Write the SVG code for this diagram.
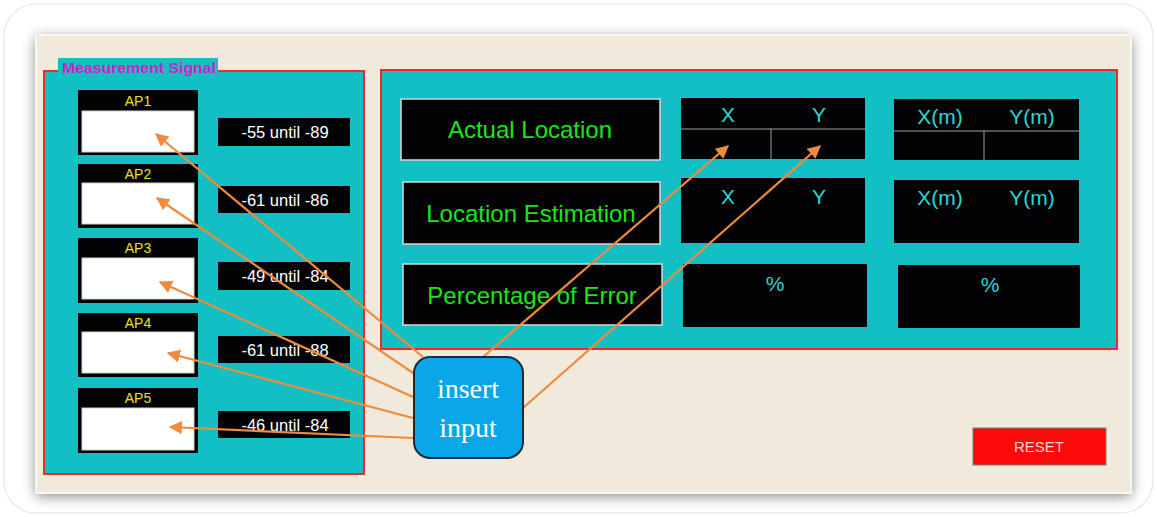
<svg xmlns="http://www.w3.org/2000/svg" width="1157" height="517" viewBox="0 0 1157 517">
<defs>
<filter id="sh" x="-10%" y="-10%" width="120%" height="130%">
<feGaussianBlur in="SourceAlpha" stdDeviation="7"/>
<feOffset dx="0" dy="3"/>
<feComponentTransfer><feFuncA type="linear" slope="0.5"/></feComponentTransfer>
<feMerge><feMergeNode/><feMergeNode in="SourceGraphic"/></feMerge>
</filter>
<marker id="ah" viewBox="0 0 10 10" refX="9" refY="5" markerWidth="6" markerHeight="6" orient="auto-start-reverse" markerUnits="strokeWidth">
<path d="M0,0 L10,5 L0,10 z" fill="#f08a3c"/>
</marker>
<style>
.panel{fill:#12bfc3;stroke:#ee2a2a;stroke-width:2}
.blk{fill:#030306}
.lbl{fill:#030306;stroke:#d8d8d8;stroke-width:1.5}
.wht{fill:#ffffff;stroke:#d0d0d0;stroke-width:1}
.ap{font-family:"Liberation Sans",Arial,sans-serif;font-size:14px;fill:#e8e020;text-anchor:middle}
.rng{font-family:"Liberation Sans",Arial,sans-serif;font-size:16.5px;fill:#ffffff;text-anchor:middle}
.grn{font-family:"Liberation Sans",Arial,sans-serif;font-size:24px;fill:#19e619;text-anchor:middle}
.cy{font-family:"Liberation Sans",Arial,sans-serif;font-size:21px;fill:#2ad8d0;text-anchor:middle}
.div{stroke:#a0a0a0;stroke-width:1}
.arr{stroke:#f08a3c;stroke-width:2.2;fill:none;marker-end:url(#ah)}
</style>
</defs>
<rect x="0" y="0" width="1157" height="517" fill="#ffffff"/>
<rect x="4" y="4" width="1149" height="509" rx="32" fill="#ffffff" stroke="#ececec" stroke-width="1.5"/>
<rect x="36" y="35" width="1095" height="458" fill="#efeadb" filter="url(#sh)"/>
<rect x="36" y="35" width="1095" height="458" fill="none" stroke="#f8f6ee" stroke-width="2"/>

<g id="measurement-panel">
<rect class="panel" x="44" y="71" width="320" height="403"/>
<rect x="58" y="58" width="160" height="18" fill="#12bfc3"/>
<text x="62" y="73" font-family="'Liberation Sans',Arial,sans-serif" font-size="15" font-weight="bold" fill="#d022c8" textLength="154" lengthAdjust="spacingAndGlyphs">Measurement Signal</text>
</g>

<g id="ap1">
<rect class="blk" x="78" y="90" width="120" height="65"/>
<text class="ap" x="138" y="106">AP1</text>
<rect class="wht" x="82" y="111" width="112" height="41"/>
</g>
<g id="ap2">
<rect class="blk" x="78" y="164" width="120" height="64"/>
<text class="ap" x="138" y="179">AP2</text>
<rect class="wht" x="82" y="183" width="112" height="41"/>
</g>
<g id="ap3">
<rect class="blk" x="78" y="238" width="120" height="65"/>
<text class="ap" x="138" y="253">AP3</text>
<rect class="wht" x="82" y="258" width="112" height="41"/>
</g>
<g id="ap4">
<rect class="blk" x="78" y="313" width="120" height="64"/>
<text class="ap" x="138" y="328">AP4</text>
<rect class="wht" x="82" y="332" width="112" height="41"/>
</g>
<g id="ap5">
<rect class="blk" x="78" y="388" width="120" height="65"/>
<text class="ap" x="138" y="403">AP5</text>
<rect class="wht" x="82" y="408" width="112" height="42"/>
</g>

<g id="range1"><rect class="blk" x="218" y="118" width="132" height="28"/><text class="rng" x="285" y="138">-55 until -89</text></g>
<g id="range2"><rect class="blk" x="218" y="186" width="132" height="27"/><text class="rng" x="285" y="206">-61 until -86</text></g>
<g id="range3"><rect class="blk" x="218" y="262" width="132" height="28"/><text class="rng" x="285" y="282">-49 until -84</text></g>
<g id="range4"><rect class="blk" x="218" y="336" width="132" height="27"/><text class="rng" x="285" y="356">-61 until -88</text></g>
<g id="range5"><rect class="blk" x="218" y="411" width="132" height="27"/><text class="rng" x="285" y="431">-46 until -84</text></g>

<g id="location-panel">
<rect class="panel" x="381" y="70" width="736" height="279"/>
</g>

<g id="actual-location"><rect class="lbl" x="401" y="99" width="259" height="61"/><text class="grn" x="530" y="138">Actual Location</text></g>
<g id="location-estimation"><rect class="lbl" x="403" y="182" width="257" height="62"/><text class="grn" x="531" y="222">Location Estimation</text></g>
<g id="percentage-error"><rect class="lbl" x="403" y="264" width="259" height="61"/><text class="grn" x="532" y="304">Percentage of Error</text></g>

<g id="xy-actual">
<rect class="blk" x="681" y="98" width="184" height="61"/>
<line class="div" x1="681" y1="129" x2="865" y2="129"/>
<line class="div" x1="771" y1="129" x2="771" y2="159"/>
<text class="cy" x="728" y="122">X</text><text class="cy" x="819" y="122">Y</text>
</g>
<g id="xy-estimation">
<rect class="blk" x="681" y="178" width="184" height="65"/>
<text class="cy" x="728" y="204">X</text><text class="cy" x="819" y="204">Y</text>
</g>
<g id="pct-1">
<rect class="blk" x="683" y="264" width="184" height="63"/>
<text class="cy" x="775" y="291">%</text>
</g>
<g id="xym-actual">
<rect class="blk" x="894" y="99" width="185" height="61"/>
<line class="div" x1="894" y1="131" x2="1079" y2="131"/>
<line class="div" x1="984" y1="131" x2="984" y2="160"/>
<text class="cy" x="940" y="124">X(m)</text><text class="cy" x="1032" y="124">Y(m)</text>
</g>
<g id="xym-estimation">
<rect class="blk" x="894" y="180" width="185" height="63"/>
<text class="cy" x="940" y="205">X(m)</text><text class="cy" x="1032" y="205">Y(m)</text>
</g>
<g id="pct-2">
<rect class="blk" x="898" y="265" width="182" height="63"/>
<text class="cy" x="990" y="292">%</text>
</g>

<g id="reset">
<rect x="973" y="428" width="133" height="37" fill="#fc0a0a" stroke="#6a8a6a" stroke-width="1"/>
<text x="1039" y="452" font-family="'Liberation Sans',Arial,sans-serif" font-size="15" fill="#ffd8d0" text-anchor="middle">RESET</text>
</g>

<g id="connectors">
<line class="arr" x1="423" y1="357" x2="156" y2="134"/>
<line class="arr" x1="413" y1="373" x2="157" y2="198"/>
<line class="arr" x1="413" y1="397" x2="160" y2="282"/>
<line class="arr" x1="413" y1="418" x2="168" y2="353"/>
<line class="arr" x1="413" y1="438" x2="170" y2="427"/>
<line class="arr" x1="483" y1="357" x2="728" y2="146"/>
<line class="arr" x1="523" y1="408" x2="820" y2="146"/>
</g>

<g id="insert-input">
<rect x="414" y="357" width="109" height="101" rx="16" fill="#09a6ea" stroke="#1a2a3a" stroke-width="2"/>
<text x="468" y="398" font-family="'Liberation Serif','Times New Roman',serif" font-size="28" fill="#ffffff" text-anchor="middle">insert</text>
<text x="468" y="437" font-family="'Liberation Serif','Times New Roman',serif" font-size="28" fill="#ffffff" text-anchor="middle">input</text>
</g>
</svg>
